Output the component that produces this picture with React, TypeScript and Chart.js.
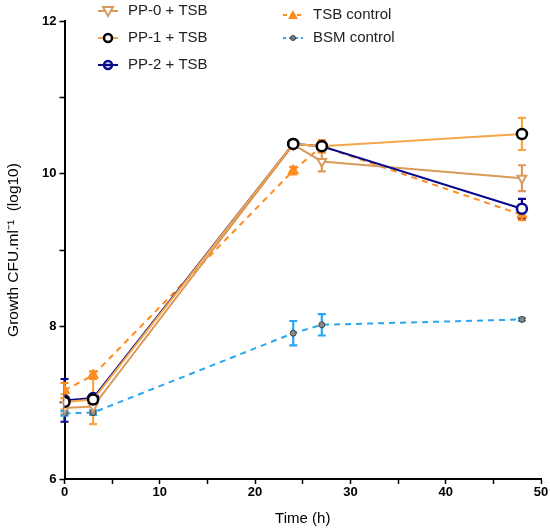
import React, { useEffect, useRef } from "react";
import { Chart, registerables } from "chart.js";

Chart.register(...registerables);

const times = [0, 3, 24, 27, 48];
const pp0 = [6.93, 6.95, 10.38, 10.16, 9.94];
const pp0Err = [0.08, 0.08, 0.04, 0.13, 0.17];
const pp1 = [7.01, 7.04, 10.39, 10.36, 10.52];
const pp1Err = [0.1, 0.32, 0.03, 0.08, 0.21];
const pp2 = [7.03, 7.06, 10.39, 10.36, 9.54];
const pp2Err = [0.28, 0.04, 0.03, 0.04, 0.13];
const tsb = [7.16, 7.36, 10.04, 10.36, 9.46];
const tsbErr = [0.1, 0.05, 0.05, 0.08, 0.07];
const bsm = [6.86, 6.87, 7.91, 8.02, 8.09];
const bsmErr = [0.03, 0.03, 0.16, 0.14, 0.02];

const seriesNames = ["PP-0 + TSB", "PP-1 + TSB", "PP-2 + TSB", "TSB control", "BSM control"];
const yTicks = [6, 8, 10, 12];
const xTicks = [0, 10, 20, 30, 40, 50];

const C_PP0 = "#D99B5C";
const C_PP1 = "#F5A54A";
const C_PP2 = "#0A0A8C";
const C_TSB = "#FF8C1E";
const C_BSM = "#2AA6F0";

const FONT = "'Liberation Sans', Arial, sans-serif";

function toPts(vals: number[]) {
  return times.map((t, i) => ({ x: t, y: vals[i] }));
}

const errPlugin = {
  id: "errbars",
  beforeDatasetsDraw(chart: any) {
    const ctx = chart.ctx;
    const xs = chart.scales.x;
    const ys = chart.scales.y;
    chart.data.datasets.forEach((ds: any) => {
      if (!ds.err) return;
      ctx.save();
      ctx.strokeStyle = ds.errColor;
      ctx.lineWidth = 2.2;
      ds.data.forEach((p: any, i: number) => {
        const e = ds.err[i];
        if (!e) return;
        const x = xs.getPixelForValue(p.x);
        const y1 = ys.getPixelForValue(p.y + e);
        const y2 = ys.getPixelForValue(p.y - e);
        ctx.beginPath();
        ctx.moveTo(x, y1);
        ctx.lineTo(x, y2);
        ctx.moveTo(x - 4, y1);
        ctx.lineTo(x + 4, y1);
        ctx.moveTo(x - 4, y2);
        ctx.lineTo(x + 4, y2);
        ctx.stroke();
      });
      ctx.restore();
    });
  },
};

function drawMarker(ctx: CanvasRenderingContext2D, kind: string, x: number, y: number) {
  ctx.save();
  if (kind === "tridown") {
    ctx.strokeStyle = C_PP0;
    ctx.fillStyle = "#fff";
    ctx.lineWidth = 2;
    ctx.beginPath();
    ctx.moveTo(x - 5, y - 4);
    ctx.lineTo(x + 5, y - 4);
    ctx.lineTo(x, y + 5);
    ctx.closePath();
    ctx.fill();
    ctx.stroke();
  } else if (kind === "c1") {
    ctx.strokeStyle = "#000";
    ctx.fillStyle = "#fff";
    ctx.lineWidth = 2.5;
    ctx.beginPath();
    ctx.arc(x, y, 4, 0, Math.PI * 2);
    ctx.fill();
    ctx.stroke();
  } else if (kind === "c2") {
    ctx.strokeStyle = C_PP2;
    ctx.fillStyle = "#fff";
    ctx.lineWidth = 2.5;
    ctx.beginPath();
    ctx.arc(x, y, 4, 0, Math.PI * 2);
    ctx.fill();
    ctx.stroke();
    ctx.beginPath();
    ctx.moveTo(x - 4, y);
    ctx.lineTo(x + 4, y);
    ctx.stroke();
  } else if (kind === "tri") {
    ctx.fillStyle = C_TSB;
    ctx.beginPath();
    ctx.moveTo(x - 5, y + 4);
    ctx.lineTo(x + 5, y + 4);
    ctx.lineTo(x, y - 5);
    ctx.closePath();
    ctx.fill();
  } else if (kind === "dot") {
    ctx.fillStyle = "#777";
    ctx.strokeStyle = "#444";
    ctx.lineWidth = 1;
    ctx.beginPath();
    ctx.arc(x, y, 2.5, 0, Math.PI * 2);
    ctx.fill();
    ctx.stroke();
  }
  ctx.restore();
}

const legendPlugin = {
  id: "customLegend",
  afterDraw(chart: any) {
    const ctx = chart.ctx;
    const items = [
      { name: seriesNames[0], color: C_PP0, dash: [], kind: "tridown", sx: 108, tx: 128, y: 11 },
      { name: seriesNames[1], color: C_PP1, dash: [], kind: "c1", sx: 108, tx: 128, y: 38 },
      { name: seriesNames[2], color: C_PP2, dash: [], kind: "c2", sx: 108, tx: 128, y: 65 },
      { name: seriesNames[3], color: C_TSB, dash: [4, 3], kind: "tri", sx: 293, tx: 313, y: 15 },
      { name: seriesNames[4], color: C_BSM, dash: [3, 3], kind: "dot", sx: 293, tx: 313, y: 38 },
    ];
    items.forEach((it) => {
      ctx.save();
      ctx.strokeStyle = it.color;
      ctx.lineWidth = 2;
      ctx.setLineDash(it.dash);
      ctx.beginPath();
      ctx.moveTo(it.sx - 10, it.y);
      ctx.lineTo(it.sx + 10, it.y);
      ctx.stroke();
      ctx.setLineDash([]);
      drawMarker(ctx, it.kind, it.sx, it.y);
      ctx.fillStyle = "#222";
      ctx.font = "15px " + FONT;
      ctx.textBaseline = "middle";
      ctx.textAlign = "left";
      ctx.fillText(it.name, it.tx, it.y);
      ctx.restore();
    });
  },
};

export default function App() {
  const ref = useRef<HTMLCanvasElement>(null);
  useEffect(() => {
    if (!ref.current) return;
    const chart = new Chart(ref.current, {
      type: "line",
      data: {
        datasets: [
          {
            label: seriesNames[1],
            data: toPts(pp1),
            err: pp1Err,
            errColor: C_PP1,
            borderColor: C_PP1,
            borderWidth: 2,
            pointStyle: "circle",
            pointRadius: 5,
            pointBorderWidth: 2.5,
            pointBorderColor: "#000",
            pointBackgroundColor: "#fff",
            order: 0,
          },
          {
            label: seriesNames[2],
            data: toPts(pp2),
            err: pp2Err,
            errColor: C_PP2,
            borderColor: C_PP2,
            borderWidth: 2,
            pointStyle: "circle",
            pointRadius: 5,
            pointBorderWidth: 2.5,
            pointBorderColor: C_PP2,
            pointBackgroundColor: "#fff",
            order: 2,
          },
          {
            label: seriesNames[0],
            data: toPts(pp0),
            err: pp0Err,
            errColor: C_PP0,
            borderColor: C_PP0,
            borderWidth: 2,
            pointStyle: "triangle",
            pointRotation: 180,
            pointRadius: 5,
            pointBorderWidth: 2,
            pointBorderColor: C_PP0,
            pointBackgroundColor: "#fff",
            order: 3,
          },
          {
            label: seriesNames[3],
            data: toPts(tsb),
            err: tsbErr,
            errColor: C_TSB,
            borderColor: C_TSB,
            borderWidth: 2,
            borderDash: [6, 5],
            pointStyle: "triangle",
            pointRadius: 6,
            pointBorderWidth: 1,
            pointBorderColor: C_TSB,
            pointBackgroundColor: C_TSB,
            order: 4,
          },
          {
            label: seriesNames[4],
            data: toPts(bsm),
            err: bsmErr,
            errColor: C_BSM,
            borderColor: C_BSM,
            borderWidth: 2,
            borderDash: [6, 5],
            pointStyle: "circle",
            pointRadius: 3,
            pointBorderWidth: 1,
            pointBorderColor: "#444",
            pointBackgroundColor: "#888",
            order: 5,
          },
        ] as any,
      },
      options: {
        animation: false,
        responsive: true,
        maintainAspectRatio: false,
        layout: { padding: { top: 21, right: 9, left: 0, bottom: 0 } },
        plugins: { legend: { display: false }, tooltip: { enabled: false } },
        scales: {
          x: {
            type: "linear",
            min: 0,
            max: 50,
            afterFit: (s: any) => {
              s.height = 50;
            },
            ticks: {
              stepSize: 5,
              autoSkip: false,
              maxRotation: 0,
              color: "#000",
              padding: 1,
              font: { family: FONT, size: 13, weight: "bold" },
              callback: (v: any) => (xTicks.includes(Number(v)) ? String(v) : ""),
            },
            grid: { drawOnChartArea: false, tickLength: 5, tickWidth: 1.5, tickColor: "#000" },
            border: { color: "#000", width: 2 },
            title: {
              display: true,
              text: "Time (h)",
              color: "#000",
              font: { family: FONT, size: 15, weight: "normal" },
              padding: { top: 2, bottom: 1 },
            },
          },
          y: {
            type: "linear",
            min: 6,
            max: 12,
            afterFit: (s: any) => {
              s.width = 64.5;
            },
            ticks: {
              stepSize: 1,
              autoSkip: false,
              color: "#000",
              padding: 3,
              font: { family: FONT, size: 13, weight: "bold" },
              callback: (v: any) => (yTicks.includes(Number(v)) ? String(v) : ""),
            },
            grid: { drawOnChartArea: false, tickLength: 5, tickWidth: 1.5, tickColor: "#000" },
            border: { color: "#000", width: 2 },
            title: {
              display: true,
              text: "Growth CFU.ml\u207B\u00B9  (log10)",
              color: "#000",
              font: { family: FONT, size: 15.5, weight: "normal" },
              padding: { top: 4, bottom: 4 },
            },
          },
        },
      },
      plugins: [errPlugin, legendPlugin],
    } as any);
    return () => chart.destroy();
  }, []);
  return (
    <div style={{ position: "absolute", left: 0, top: 0, width: 550, height: 529, background: "#fff" }}>
      <canvas ref={ref} />
    </div>
  );
}
